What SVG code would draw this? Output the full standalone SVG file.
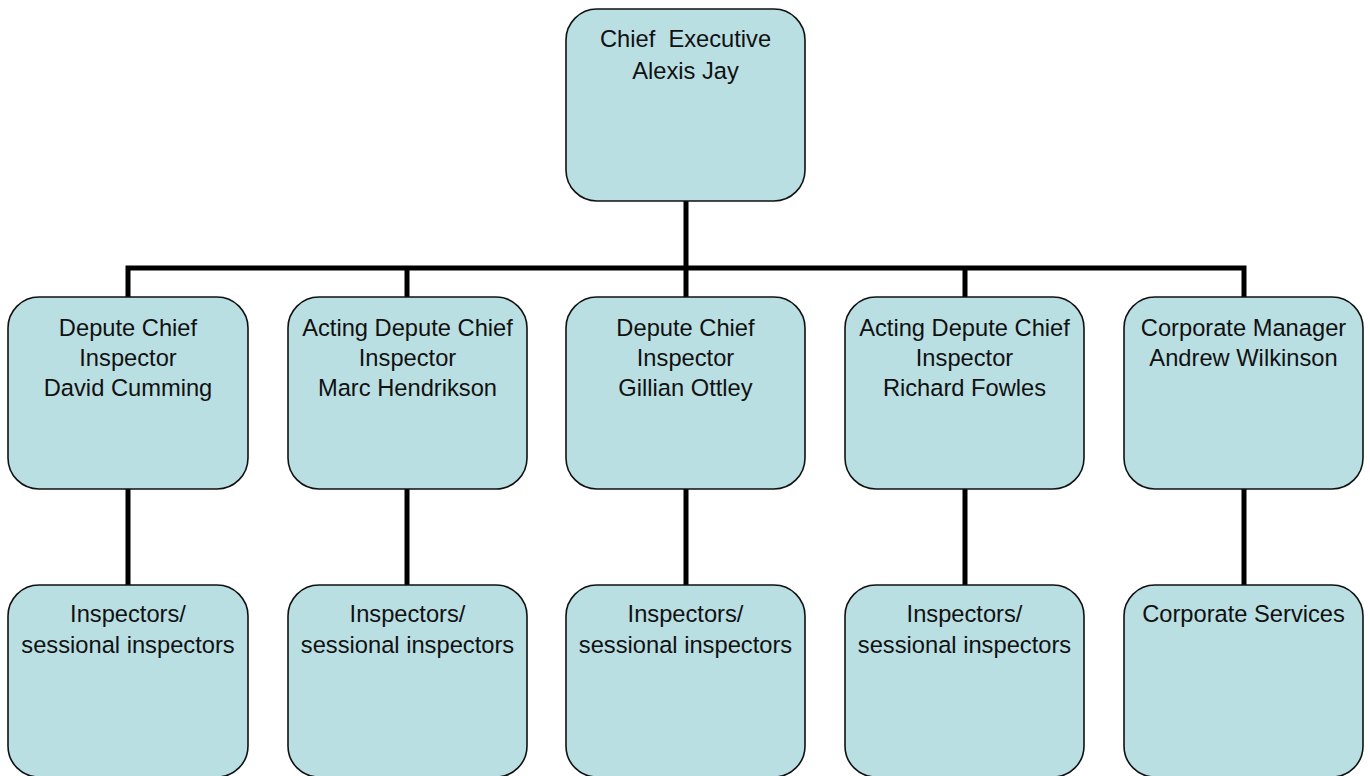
<svg xmlns="http://www.w3.org/2000/svg" width="1370" height="776" viewBox="0 0 1370 776">
<style>
.box{fill:#B9DFE3;stroke:#111;stroke-width:1.6}
.t{font-family:"Liberation Sans",Arial,sans-serif;font-size:23.7px;fill:#111;text-anchor:middle;white-space:pre}
.c{fill:none;stroke:#000;stroke-width:5;stroke-linecap:square}
</style>
<rect width="1370" height="776" fill="#fff"/>
<g id="connectors">
<path class="c" d="M686 201V268M128 268H1244M128 268V297M407 268V297M686 268V297M965 268V297M1244 268V297"/>
<path class="c" d="M128 489V585M407 489V585M686 489V585M965 489V585M1244 489V585"/>
</g>
<g id="ceo"><rect class="box" x="566" y="9" width="239" height="192" rx="31"/>
<text class="t" x="685.5" y="47" xml:space="preserve">Chief  Executive</text><text class="t" x="685.5" y="79">Alexis Jay</text></g>
<g id="n1"><rect class="box" x="8" y="297" width="240" height="192" rx="31"/>
<text class="t" x="128" y="336">Depute Chief</text><text class="t" x="128" y="366">Inspector</text><text class="t" x="128" y="396">David Cumming</text></g>
<g id="n2"><rect class="box" x="288" y="297" width="239" height="192" rx="31"/>
<text class="t" x="407.5" y="336">Acting Depute Chief</text><text class="t" x="407.5" y="366">Inspector</text><text class="t" x="407.5" y="396">Marc Hendrikson</text></g>
<g id="n3"><rect class="box" x="566" y="297" width="239" height="192" rx="31"/>
<text class="t" x="685.5" y="336">Depute Chief</text><text class="t" x="685.5" y="366">Inspector</text><text class="t" x="685.5" y="396">Gillian Ottley</text></g>
<g id="n4"><rect class="box" x="845" y="297" width="239" height="192" rx="31"/>
<text class="t" x="964.5" y="336">Acting Depute Chief</text><text class="t" x="964.5" y="366">Inspector</text><text class="t" x="964.5" y="396">Richard Fowles</text></g>
<g id="n5"><rect class="box" x="1124" y="297" width="239" height="192" rx="31"/>
<text class="t" x="1243.5" y="336">Corporate Manager</text><text class="t" x="1243.5" y="366">Andrew Wilkinson</text></g>
<g id="s1"><rect class="box" x="8" y="585" width="240" height="192" rx="31"/>
<text class="t" x="128" y="622">Inspectors/</text><text class="t" x="128" y="653">sessional inspectors</text></g>
<g id="s2"><rect class="box" x="288" y="585" width="239" height="192" rx="31"/>
<text class="t" x="407.5" y="622">Inspectors/</text><text class="t" x="407.5" y="653">sessional inspectors</text></g>
<g id="s3"><rect class="box" x="566" y="585" width="239" height="192" rx="31"/>
<text class="t" x="685.5" y="622">Inspectors/</text><text class="t" x="685.5" y="653">sessional inspectors</text></g>
<g id="s4"><rect class="box" x="845" y="585" width="239" height="192" rx="31"/>
<text class="t" x="964.5" y="622">Inspectors/</text><text class="t" x="964.5" y="653">sessional inspectors</text></g>
<g id="s5"><rect class="box" x="1124" y="585" width="239" height="192" rx="31"/>
<text class="t" x="1243.5" y="622">Corporate Services</text></g>
</svg>
